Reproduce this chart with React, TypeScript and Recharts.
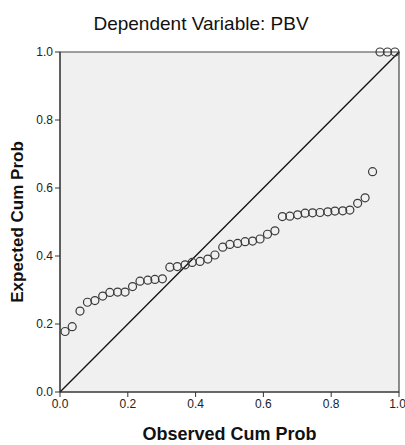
import React from "react";
import {
  ReferenceArea,
  ReferenceLine,
  Scatter,
  ScatterChart,
  XAxis,
  YAxis
} from "recharts";

const OBSERVED_CUM = [
  0.015, 0.036, 0.059, 0.081, 0.103, 0.126, 0.147, 0.17, 0.192, 0.214, 0.236, 0.259, 0.28, 0.302,
  0.324, 0.346, 0.369, 0.39, 0.413, 0.436, 0.457, 0.48, 0.501, 0.524, 0.546, 0.568, 0.59,
  0.612, 0.634, 0.656, 0.678, 0.701, 0.723, 0.745, 0.767, 0.79, 0.811, 0.834, 0.855, 0.878, 0.9,
  0.922, 0.944, 0.966, 0.988
];

const EXPECTED_CUM = [
  0.178, 0.192, 0.238, 0.264, 0.269, 0.282, 0.293, 0.294, 0.294, 0.31, 0.326, 0.329, 0.331, 0.333,
  0.367, 0.369, 0.374, 0.381, 0.384, 0.391, 0.403, 0.426, 0.434, 0.437, 0.442, 0.444, 0.45,
  0.464, 0.474, 0.516, 0.517, 0.521, 0.526, 0.527, 0.528, 0.53, 0.532, 0.533, 0.535, 0.555, 0.571,
  0.648, 1.0, 1.0, 1.0
];

const TICKS = [0, 0.2, 0.4, 0.6, 0.8, 1.0];

const points = OBSERVED_CUM.map((x, i) => ({ x, y: EXPECTED_CUM[i] }));

const FONT = "'Liberation Sans', Arial, sans-serif";
const INK = "#222";

const HollowDot = (props: any) => {
  const { cx, cy } = props;
  return <circle cx={cx} cy={cy} r={4} fill="none" stroke="#3a3a3a" strokeWidth={1.2} />;
};

export default function App() {
  return (
    <div style={{ position: "absolute", left: 0, top: 0, width: 405, height: 445, background: "#fff" }}>
      <ScatterChart
        width={405}
        height={445}
        margin={{ top: 52, right: 6, bottom: 0, left: 0 }}
        style={{ fontFamily: FONT }}
      >
        <text x={201} y={30} textAnchor="middle" fontSize={19} fill="#111" fontFamily={FONT}>
          Dependent Variable: PBV
        </text>
        <ReferenceArea x1={0} x2={1} y1={0} y2={1} fill="#f0f0f0" fillOpacity={1} stroke="#444" strokeWidth={1.2} />
        <XAxis
          dataKey="x"
          type="number"
          domain={[0, 1]}
          ticks={TICKS}
          tickFormatter={(v) => Number(v).toFixed(1)}
          height={53}
          tickSize={5}
          tick={{ fill: INK, fontSize: 12 }}
          stroke="#333"
          label={{
            value: "Observed Cum Prob",
            position: "insideBottom",
            offset: 5,
            fill: "#111",
            fontSize: 18,
            fontWeight: "bold"
          }}
        />
        <YAxis
          dataKey="y"
          type="number"
          domain={[0, 1]}
          ticks={TICKS}
          tickFormatter={(v) => Number(v).toFixed(1)}
          width={60}
          tickSize={5}
          tick={{ fill: INK, fontSize: 12 }}
          stroke="#333"
          label={{
            value: "Expected Cum Prob",
            angle: -90,
            position: "insideLeft",
            offset: 17,
            style: { textAnchor: "middle" },
            fill: "#111",
            fontSize: 17,
            fontWeight: "bold"
          }}
        />
        <ReferenceLine
          segment={[
            { x: 0, y: 0 },
            { x: 1, y: 1 }
          ]}
          stroke="#111"
          strokeWidth={1.3}
        />
        <Scatter data={points} shape={HollowDot} isAnimationActive={false} />
      </ScatterChart>
    </div>
  );
}
